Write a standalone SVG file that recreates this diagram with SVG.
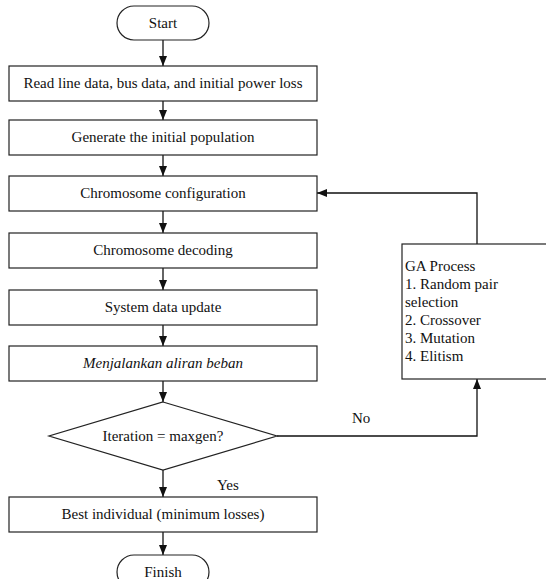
<svg xmlns="http://www.w3.org/2000/svg" width="546" height="579" viewBox="0 0 546 579">
<style>
.box{fill:#fff;stroke:#222;stroke-width:1.2}
.t{font-family:'Liberation Serif','Times New Roman',serif;font-size:15px;fill:#111}
.c{text-anchor:middle}
.ln{fill:none;stroke:#111;stroke-width:1.3}
</style>
<defs>
<marker id="ah" markerUnits="userSpaceOnUse" markerWidth="10" markerHeight="10" viewBox="0 0 10 10" refX="10" refY="5" orient="auto">
<path d="M0,1 L10,5 L0,9 Z" fill="#111"/>
</marker>
</defs>
<rect width="546" height="579" fill="#fff"/>
<g id="connectors">
<line class="ln" x1="163" y1="40" x2="163" y2="66" marker-end="url(#ah)"/>
<line class="ln" x1="163" y1="101" x2="163" y2="120" marker-end="url(#ah)"/>
<line class="ln" x1="163" y1="155" x2="163" y2="176" marker-end="url(#ah)"/>
<line class="ln" x1="163" y1="211" x2="163" y2="233" marker-end="url(#ah)"/>
<line class="ln" x1="163" y1="268" x2="163" y2="290" marker-end="url(#ah)"/>
<line class="ln" x1="163" y1="325" x2="163" y2="346" marker-end="url(#ah)"/>
<line class="ln" x1="163" y1="381" x2="163" y2="402" marker-end="url(#ah)"/>
<line class="ln" x1="163" y1="470" x2="163" y2="497" marker-end="url(#ah)"/>
<line class="ln" x1="163" y1="532" x2="163" y2="555" marker-end="url(#ah)"/>
<polyline class="ln" points="277,436 477,436 477,379" marker-end="url(#ah)"/>
<polyline class="ln" points="477,244 477,193 317,193" marker-end="url(#ah)"/>
<text class="t" x="352" y="423">No</text>
<text class="t" x="217" y="490">Yes</text>
</g>
<g id="start">
<rect class="box" x="117" y="6" width="92" height="34" rx="17"/>
<text class="t c" x="163" y="28">Start</text>
</g>
<g id="read">
<rect class="box" x="9" y="66" width="308" height="35"/>
<text class="t c" x="163" y="88">Read line data, bus data, and initial power loss</text>
</g>
<g id="generate">
<rect class="box" x="9" y="120" width="308" height="35"/>
<text class="t c" x="163" y="142">Generate the initial population</text>
</g>
<g id="config">
<rect class="box" x="9" y="176" width="308" height="35"/>
<text class="t c" x="163" y="198">Chromosome configuration</text>
</g>
<g id="decoding">
<rect class="box" x="9" y="233" width="308" height="35"/>
<text class="t c" x="163" y="255">Chromosome decoding</text>
</g>
<g id="update">
<rect class="box" x="9" y="290" width="308" height="35"/>
<text class="t c" x="163" y="312">System data update</text>
</g>
<g id="loadflow">
<rect class="box" x="9" y="346" width="308" height="35"/>
<text class="t c" x="163" y="368" font-style="italic">Menjalankan aliran beban</text>
</g>
<g id="decision">
<polygon class="box" points="163,402 277,436 163,470 49,436"/>
<text class="t c" x="163" y="441">Iteration = maxgen?</text>
</g>
<g id="best">
<rect class="box" x="9" y="497" width="308" height="35"/>
<text class="t c" x="163" y="519">Best individual (minimum losses)</text>
</g>
<g id="finish">
<rect class="box" x="117" y="555" width="92" height="34" rx="17"/>
<text class="t c" x="163" y="577">Finish</text>
</g>
<g id="ga">
<rect class="box" x="402" y="244" width="160" height="135"/>
<text class="t" x="405" y="271">GA Process</text>
<text class="t" x="405" y="289">1. Random pair</text>
<text class="t" x="405" y="307">selection</text>
<text class="t" x="405" y="325">2. Crossover</text>
<text class="t" x="405" y="343">3. Mutation</text>
<text class="t" x="405" y="361">4. Elitism</text>
</g>
</svg>
